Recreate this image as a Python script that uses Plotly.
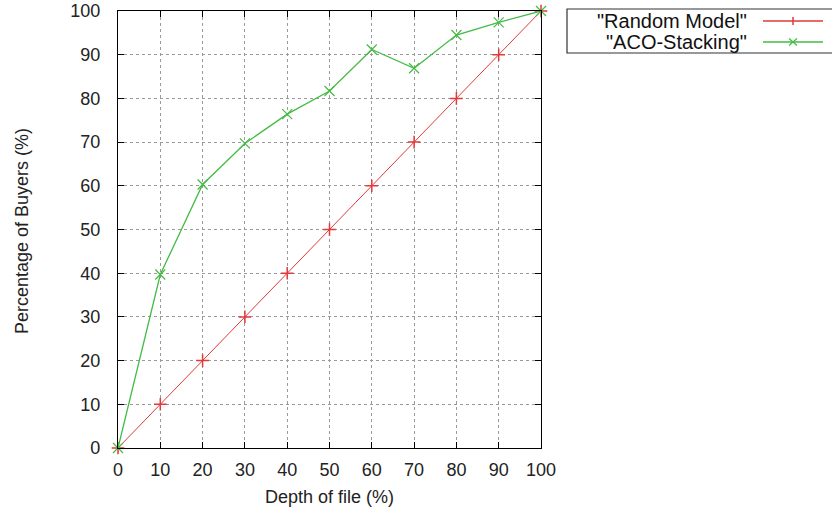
import plotly.graph_objects as go

depth = [0, 10, 20, 30, 40, 50, 60, 70, 80, 90, 100]
random_model = [0, 10, 20, 30, 40, 50, 60, 70, 80, 90, 100]
aco_stacking = [0, 39.7, 60.3, 69.7, 76.4, 81.7, 91.2, 86.9, 94.5, 97.4, 100]
series_names = ['"Random Model"', '"ACO-Stacking"']
tick_vals = [0, 10, 20, 30, 40, 50, 60, 70, 80, 90, 100]

RED = "#e03a3a"
GREEN = "#44bb44"
FONT = "Liberation Sans, Arial, sans-serif"

fig = go.Figure()
fig.add_trace(go.Scatter(
    x=depth, y=random_model, mode="lines+markers", name=series_names[0],
    line=dict(color=RED, width=1),
    marker=dict(symbol="cross-thin", size=9, line=dict(color=RED, width=1.5)),
    cliponaxis=False, showlegend=False))
fig.add_trace(go.Scatter(
    x=depth, y=aco_stacking, mode="lines+markers", name=series_names[1],
    line=dict(color=GREEN, width=1.3),
    marker=dict(symbol="x-thin", size=10, line=dict(color=GREEN, width=1.2)),
    cliponaxis=False, showlegend=False))

axis_common = dict(
    range=[0, 100], tickvals=tick_vals, ticks="inside", ticklen=6, tickcolor="black",
    showline=True, linecolor="black", linewidth=1.2, mirror="ticks",
    showgrid=True, gridcolor="#9a9a9a", griddash="dot", gridwidth=1,
    zeroline=False, automargin=False,
    tickfont=dict(family=FONT, size=18, color="#222"),
)

fig.update_layout(
    width=832, height=513,
    margin=dict(l=118, r=291, t=11, b=65, autoexpand=False),
    plot_bgcolor="white", paper_bgcolor="white",
    font=dict(family=FONT, color="#222"),
    xaxis=dict(axis_common, ticklabelstandoff=5),
    yaxis=dict(axis_common, ticklabelstandoff=13),
)

def px(x):
    return (x - 118) / 423
def py(y):
    return (448 - y) / 437

# axis titles
fig.add_annotation(xref="paper", yref="paper", x=px(329), y=py(497), text="Depth of file (%)",
                   showarrow=False, xanchor="center", yanchor="middle",
                   font=dict(family=FONT, size=18, color="#222"))
fig.add_annotation(xref="paper", yref="paper", x=px(22), y=py(231), text="Percentage of Buyers (%)",
                   showarrow=False, xanchor="center", yanchor="middle", textangle=-90,
                   font=dict(family=FONT, size=18, color="#222"))

# gnuplot-style legend: text on the left, sample on the right
fig.add_shape(type="rect", xref="paper", yref="paper",
              x0=px(567), x1=px(840), y0=py(53), y1=py(9),
              line=dict(color="#333", width=1.2), fillcolor="white")
rows = [(21, RED, series_names[0]), (42, GREEN, series_names[1])]
for i, (yy, col, name) in enumerate(rows):
    fig.add_annotation(xref="paper", yref="paper", x=px(749), y=py(yy), text=name,
                       showarrow=False, xanchor="right", yanchor="middle",
                       font=dict(family=FONT, size=20, color="#111"))
    fig.add_shape(type="line", xref="paper", yref="paper",
                  x0=px(763), x1=px(823), y0=py(yy), y1=py(yy),
                  line=dict(color=col, width=1.3))
    if i == 0:
        fig.add_shape(type="line", xref="paper", yref="paper",
                      x0=px(793), x1=px(793), y0=py(yy - 4), y1=py(yy + 4),
                      line=dict(color=col, width=1.5))
    else:
        fig.add_shape(type="line", xref="paper", yref="paper",
                      x0=px(789), x1=px(797), y0=py(yy - 3.5), y1=py(yy + 3.5),
                      line=dict(color=col, width=1.2))
        fig.add_shape(type="line", xref="paper", yref="paper",
                      x0=px(789), x1=px(797), y0=py(yy + 3.5), y1=py(yy - 3.5),
                      line=dict(color=col, width=1.2))

fig.write_html("out.html", config={"displayModeBar": False},
               post_script="document.body.style.margin='0';document.body.style.overflow='hidden';")
